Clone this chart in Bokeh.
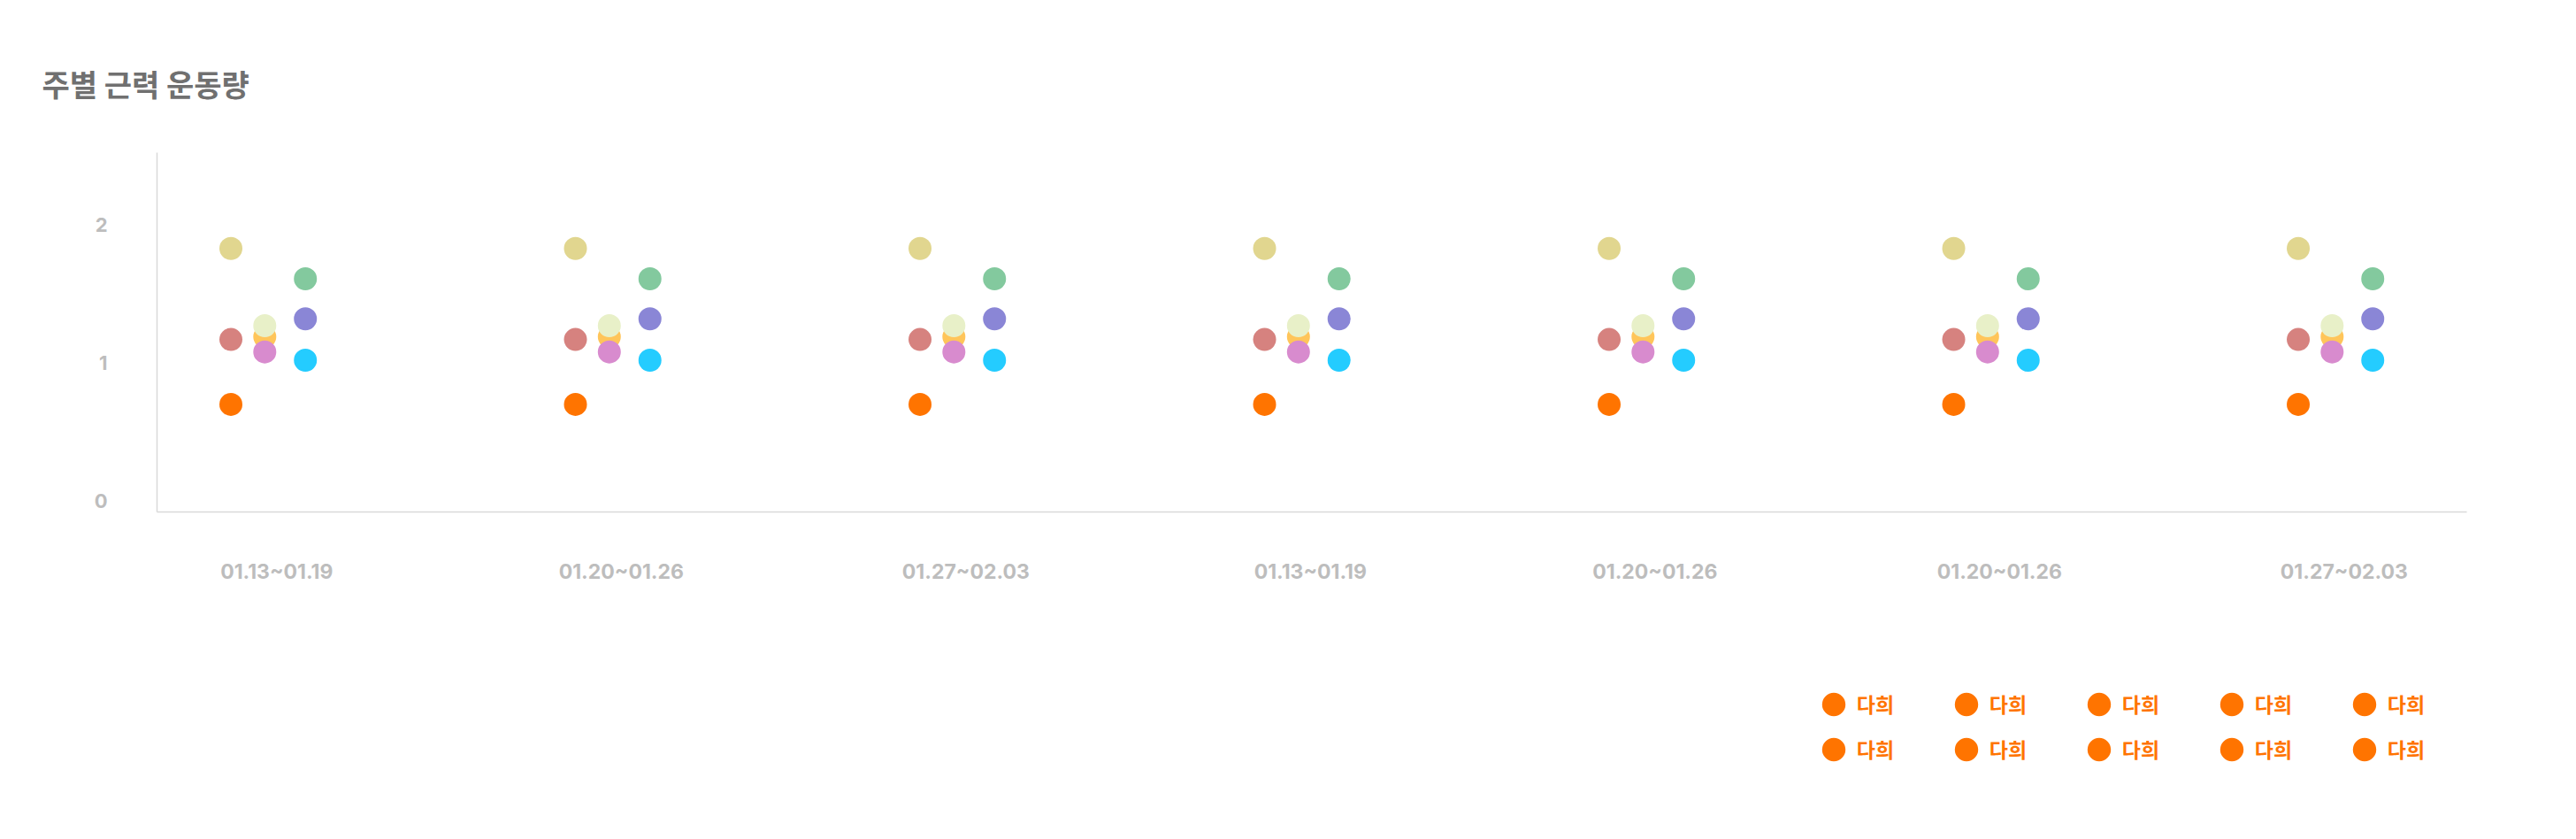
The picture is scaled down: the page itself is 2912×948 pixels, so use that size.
from bokeh.plotting import figure
from bokeh.layouts import column
from bokeh.models import Range1d, FixedTicker, Label, Legend, LegendItem, ColumnDataSource
from bokeh.transform import dodge
from bokeh.embed import file_html
from bokeh.resources import INLINE

# ---- data ----
title_text = "주별 근력 운동량"
week_labels = ["01.13~01.19", "01.20~01.26", "01.27~02.03", "01.13~01.19",
               "01.20~01.26", "01.20~01.26", "01.27~02.03"]
week_pos = [0, 1, 2, 3, 4, 5, 6]
y_ticks = [0, 1, 2]

s1 = [1.83, 1.83, 1.83, 1.83, 1.83, 1.83, 1.83]
s2 = [1.17, 1.17, 1.17, 1.17, 1.17, 1.17, 1.17]
s3 = [0.70, 0.70, 0.70, 0.70, 0.70, 0.70, 0.70]
s4 = [1.19, 1.19, 1.19, 1.19, 1.19, 1.19, 1.19]
s5 = [1.27, 1.27, 1.27, 1.27, 1.27, 1.27, 1.27]
s6 = [1.08, 1.08, 1.08, 1.08, 1.08, 1.08, 1.08]
s7 = [1.61, 1.61, 1.61, 1.61, 1.61, 1.61, 1.61]
s8 = [1.32, 1.32, 1.32, 1.32, 1.32, 1.32, 1.32]
s9 = [1.02, 1.02, 1.02, 1.02, 1.02, 1.02, 1.02]
series_values = [s1, s2, s3, s4, s5, s6, s7, s8, s9]
series_colors = ["#E1D68F", "#D6827F", "#FF7400",
                 "#FFC55A", "#E8F0C8", "#D88BCE",
                 "#83C99E", "#8A86D6", "#24CCFF"]
series_offsets = [-0.133, -0.133, -0.133,
                  -0.0347, -0.0347, -0.0347,
                  0.0832, 0.0832, 0.0832]

legend_labels = ["다희"] * 10
legend_color = "#FF7400"

W = 2896


def blank_fig(h):
    f = figure(width=W, height=h, output_backend="svg", toolbar_location=None,
               x_range=Range1d(0, 1), y_range=Range1d(0, 1),
               x_axis_type=None, y_axis_type=None, min_border=0,
               min_border_left=0, min_border_right=0, min_border_top=0,
               min_border_bottom=0, frame_align=False)
    f.outline_line_color = None
    f.xgrid.visible = False
    f.ygrid.visible = False
    return f


# ---- title figure ----
tf = blank_fig(130)
tf.add_layout(Label(x=47, y=36, x_units="screen", y_units="screen", text=title_text,
                    text_font="Noto Sans CJK KR", text_font_size="34px",
                    text_font_style="bold", text_color="#707070",
                    text_baseline="middle"))

# ---- main figure ----
p = figure(width=W, height=570, output_backend="svg", toolbar_location=None,
           x_range=Range1d(-0.3474, 6.356), y_range=Range1d(-0.080, 2.524),
           min_border_left=177, min_border_right=W - 2788, min_border_top=42,
           min_border_bottom=122, frame_align=False)
p.outline_line_color = None
p.xgrid.visible = False
p.ygrid.visible = False

for ax in (p.xaxis[0], p.yaxis[0]):
    ax.axis_line_color = "#D9D9D9"
    ax.axis_line_width = 1.5
    ax.major_tick_line_color = None
    ax.minor_tick_line_color = None
    ax.major_tick_out = 0
    ax.major_tick_in = 0
    ax.minor_tick_out = 0
    ax.major_label_text_color = "#BDBDBD"
    ax.major_label_text_font = "Inter"
    ax.major_label_text_font_style = "bold"

p.xaxis.ticker = FixedTicker(ticks=week_pos)
p.xaxis.major_label_overrides = {i: lab for i, lab in zip(week_pos, week_labels)}
p.xaxis.major_label_text_font_size = "23px"
p.xaxis.major_label_standoff = 53

p.yaxis.ticker = FixedTicker(ticks=y_ticks)
p.yaxis.major_label_text_font_size = "22px"
p.yaxis.major_label_standoff = 56

for vals, col, off in zip(series_values, series_colors, series_offsets):
    src = ColumnDataSource(dict(x=week_pos, y=vals))
    p.scatter(x=dodge("x", off, range=p.x_range), y="y", source=src,
              size=26, marker="circle", fill_color=col, line_color=None)

# ---- legend figure ----
lf = blank_fig(200)
leg_src = ColumnDataSource(dict(x=[float("nan")], y=[float("nan")], w=[26], h=[26]))
leg_r = lf.ellipse(x="x", y="y", width="w", height="h", width_units="screen",
                   height_units="screen", source=leg_src, fill_color=legend_color,
                   line_color=None)
items = [LegendItem(label=lab, renderers=[leg_r]) for lab in legend_labels]
legend = Legend(items=items, location=(2055.8, 36.8), orientation="horizontal",
                ncols=5, glyph_width=33, glyph_height=33, label_standoff=10,
                label_width=90, spacing=17, padding=0, margin=0,
                border_line_color=None, background_fill_alpha=0,
                label_text_font="Noto Sans CJK KR", label_text_font_size="23px",
                label_text_font_style="bold", label_text_color=legend_color,
                click_policy="none")
lf.add_layout(legend, "center")

layout = column(tf, p, lf, spacing=0)
open("out.html", "w").write(file_html(layout, INLINE))
